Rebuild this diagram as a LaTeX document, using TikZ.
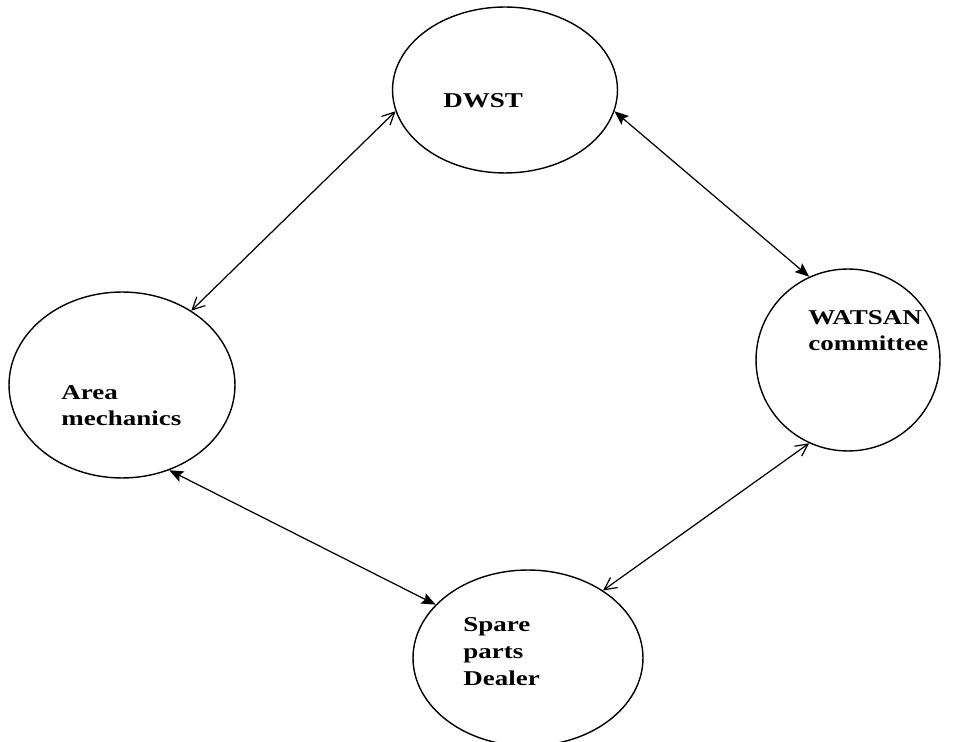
\documentclass[tikz,border=0pt]{standalone}
\usepackage{fontspec}
\newfontfamily\lblfont[FakeStretch=1.28]{Liberation Serif Bold}
\usepackage{tikz}
\usetikzlibrary{shapes.geometric}
\usetikzlibrary{positioning}
\usetikzlibrary{arrows.meta}
\usetikzlibrary{calc}

\tikzset{
  party/.style={draw, ellipse, line width=0.8pt, inner sep=0pt},
  lbl/.style={anchor=base west, align=left, inner sep=0pt,
    font=\lblfont\fontsize{12}{15.3}\selectfont},
  openlink/.style={line width=0.7pt,
    {Straight Barb[length=7pt,width=7pt]}-{Straight Barb[length=7pt,width=7pt]}},
  solidlink/.style={line width=0.7pt,
    {Stealth[length=8pt,width=6.5pt,inset=1.5pt]}-{Stealth[length=8pt,width=6.5pt,inset=1.5pt]}}
}

\begin{document}
\begin{tikzpicture}[x=0.02cm, y=-0.02cm]
\useasboundingbox (0,0) rectangle (970,742);

% the four parties
\node[party, minimum width=4.5cm, minimum height=3.32cm] (dwst) at (505,90) {};
\node[party, minimum width=4.52cm, minimum height=3.72cm] (area) at (122,385) {};
\node[party, minimum width=3.68cm, minimum height=3.64cm] (watsan) at (848,360) {};
\node[party, minimum width=4.6cm, minimum height=3.52cm] (dealer) at (528,658) {};

\node[lbl] (dwsttxt) at ($(dwst)+(-62,18)$) {DWST};
\node[lbl] (areatxt) at ($(area)+(-61,41)$) {Area\\mechanics};
\node[lbl] (watsantxt) at ($(watsan)+(-40,-9)$) {WATSAN\\committee};
\node[lbl] (dealertxt) at ($(dealer)+(-65,27)$) {Spare\\parts\\Dealer};

% links
\draw[openlink] (dwst.191) -- (area.47);
\draw[solidlink] (dwst.349) -- (watsan.115);
\draw[solidlink] (area.299) -- (dealer.150);
\draw[openlink] (watsan.245) -- (dealer.42);

\end{tikzpicture}
\end{document}
